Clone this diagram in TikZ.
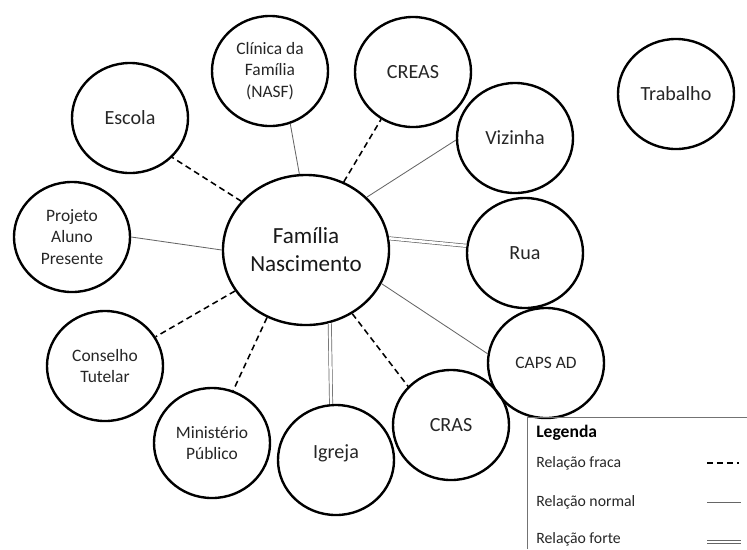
\documentclass[tikz,border=0pt]{standalone}
\usepackage{fontspec}
\setmainfont{Carlito}
\usetikzlibrary{shapes.geometric}
\begin{document}
\begin{tikzpicture}[x=0.025cm, y=-0.025cm,
  ator/.style={draw, ellipse, line width=1.7pt, inner sep=0pt, minimum width=2.9cm, minimum height=2.75cm,
    align=center, text=black!85, font=\fontsize{14.3}{17}\selectfont},
  menor/.style={font=\fontsize{12.4}{15.3}\selectfont},
  fraca/.style={draw=black, line width=1.1pt, dash pattern=on 4.3pt off 2.8pt},
  normal/.style={draw=black!60, line width=0.6pt},
  forte/.style={draw=black!60, line width=0.5pt, double=white, double distance=1.8pt},
  legtxt/.style={anchor=west, inner sep=0pt, text=black!85, font=\fontsize{11.2}{13}\selectfont}]
  \useasboundingbox (0,0) rectangle (747,549);

  % a familia e a rede
  \node[ator, minimum width=4.15cm, minimum height=3.75cm, text=black!90, font=\fontsize{16.4}{20}\selectfont] (familia) at (306,250) {Família\\Nascimento};

  \node[ator] (escola) at (130,118) {Escola};
  \node[ator, menor] (clinica) at (270,71) {Clínica da\\Família\\(NASF)};
  \node[ator] (creas) at (413,72) {CREAS};
  \node[ator] (vizinha) at (515,138) {Vizinha};
  \node[ator] (trabalho) at (676,94) {Trabalho};
  \node[ator] (rua) at (525,253) {Rua};
  \node[ator, menor] (caps) at (546,363) {CAPS AD};
  \node[ator] (cras) at (451,425) {CRAS};
  \node[ator, text depth=12pt] (igreja) at (336,460) {Igreja};
  \node[ator, menor] (ministerio) at (212,443) {Ministério\\Público};
  \node[ator, menor] (conselho) at (105,366) {Conselho\\Tutelar};
  \node[ator, menor] (projeto) at (72,237) {Projeto\\Aluno\\Presente};

  % relacoes
  \draw[fraca] (familia.143) -- (escola.-43);
  \draw[normal] (familia.95) -- (clinica.-69);
  \draw[fraca] (familia.61) -- (creas.-124);
  \draw[normal] (familia.41) -- (vizinha.182);
  \draw[forte] (familia.8) -- (rua.173);
  \draw[normal] (familia.-24) -- (caps.171);
  \draw[fraca] (familia.-54) -- (cras.138);
  \draw[forte] (familia.-72) -- (igreja.95);
  \draw[fraca] (familia.-120) -- (ministerio.68);
  \draw[fraca] (familia.210) -- (conselho.30);
  \draw[normal] (familia.180) -- (projeto.0);

  % legenda
  \draw[black!55, line width=0.7pt] (527,549) -- (527,417) -- (747,417);
  \node[legtxt, text=black, font=\bfseries\fontsize{12.5}{15}\selectfont] (legenda) at (536,433) {Legenda};
  \node[legtxt] (lfraca) at (536,463) {Relação fraca};
  \node[legtxt] (lnormal) at (536,502) {Relação normal};
  \node[legtxt] (lforte) at (536,539) {Relação forte};
  \coordinate (fa) at (707,463);
  \coordinate (fb) at (739,463);
  \coordinate (na) at (707,502);
  \coordinate (nb) at (741,502);
  \coordinate (ta) at (707,542);
  \coordinate (tb) at (741,542);
  \draw[fraca] (fa) -- (fb);
  \draw[normal] (na) -- (nb);
  \draw[forte] (ta) -- (tb);
\end{tikzpicture}
\end{document}
